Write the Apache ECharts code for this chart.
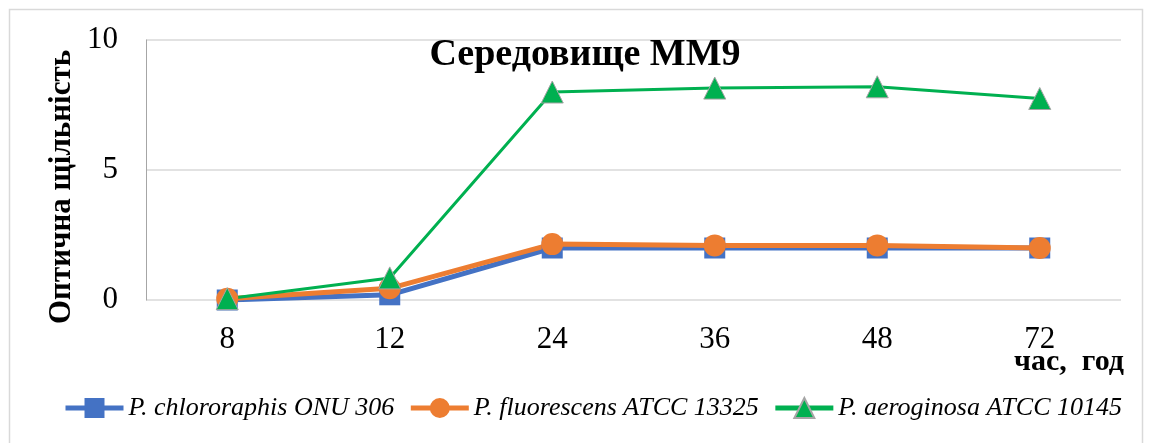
<!DOCTYPE html>
<html>
<head>
<meta charset="utf-8">
<script src="https://cdn.jsdelivr.net/npm/echarts@6/dist/echarts.min.js"></script>
<style>
  html, body { margin: 0; padding: 0; background: #fff; }
  #main { width: 1151px; height: 443px; }
</style>
</head>
<body>
<div id="main"></div>
<script>
var hours = ['8', '12', '24', '36', '48', '72'];
var chlororaphis = [0, 0.2, 2.0, 2.0, 2.0, 2.0];
var fluorescens = [0.05, 0.45, 2.15, 2.1, 2.1, 2.0];
var aeroginosa = [0.05, 0.85, 8.0, 8.15, 8.2, 7.75];
var names = ['P. chlororaphis ONU 306', 'P. fluorescens ATCC 13325', 'P. aeroginosa ATCC 10145'];

var serif = '"Liberation Serif", "Times New Roman", serif';
var myChart = echarts.init(document.getElementById('main'));

var option = {
    animation: false,
    backgroundColor: '#fff',
    title: {
        text: 'Середовище ММ9',
        left: 580,
        top: 31,
        textAlign: 'center',
        textStyle: { fontFamily: serif, fontSize: 38, fontWeight: 'bold', color: '#000' }
    },
    grid: { left: 146, right: 30, top: 40, bottom: 143, containLabel: false },
    legend: {
        bottom: 17,
        left: 58,
        itemWidth: 58,
        itemHeight: 25,
        itemGap: 14,
        lineStyle: { width: 5 },
        textStyle: { fontFamily: serif, fontSize: 26, fontStyle: 'italic', color: '#000' },
        data: names
    },
    xAxis: {
        type: 'category',
        data: hours,
        boundaryGap: true,
        axisLine: { show: false },
        axisTick: { show: false },
        axisLabel: { fontFamily: serif, fontSize: 31, color: '#000', margin: 24 }
    },
    yAxis: {
        type: 'value',
        min: 0,
        max: 10,
        interval: 5,
        axisLine: { show: true, lineStyle: { color: '#a6a6a6', width: 1 } },
        axisTick: { show: false },
        splitLine: { lineStyle: { color: '#d9d9d9', width: 1.5 } },
        axisLabel: { fontFamily: serif, fontSize: 31, color: '#000', margin: 28 }
    },
    graphic: [
        {
            type: 'rect',
            shape: { x: 9.5, y: 9.5, width: 1133, height: 440 },
            style: { fill: 'none', stroke: '#d9d9d9', lineWidth: 1.5 },
            silent: true
        },
        {
            type: 'text',
            x: 62,
            y: 187,
            rotation: Math.PI / 2,
            style: {
                text: 'Оптична щільність',
                fontFamily: serif, fontSize: 31, fontWeight: 'bold', fill: '#000',
                align: 'center', verticalAlign: 'middle'
            }
        },
        {
            type: 'text',
            x: 1069,
            y: 362,
            style: {
                text: 'час,  год',
                fontFamily: serif, fontSize: 30, fontWeight: 'bold', fill: '#000',
                align: 'center', verticalAlign: 'middle'
            }
        }
    ],
    series: [
        {
            name: names[0],
            type: 'line',
            data: chlororaphis,
            symbol: 'rect',
            symbolSize: 21,
            lineStyle: { color: '#4472C4', width: 5 },
            itemStyle: { color: '#4472C4' }
        },
        {
            name: names[1],
            type: 'line',
            data: fluorescens,
            symbol: 'circle',
            symbolSize: 22,
            lineStyle: { color: '#ED7D31', width: 5 },
            itemStyle: { color: '#ED7D31' }
        },
        {
            name: names[2],
            type: 'line',
            data: aeroginosa,
            symbol: 'triangle',
            symbolSize: 22,
            lineStyle: { color: '#00B050', width: 3 },
            itemStyle: { color: '#00B050', borderColor: '#a5a5a5', borderWidth: 1 }
        }
    ]
};

myChart.setOption(option);
</script>
</body>
</html>
